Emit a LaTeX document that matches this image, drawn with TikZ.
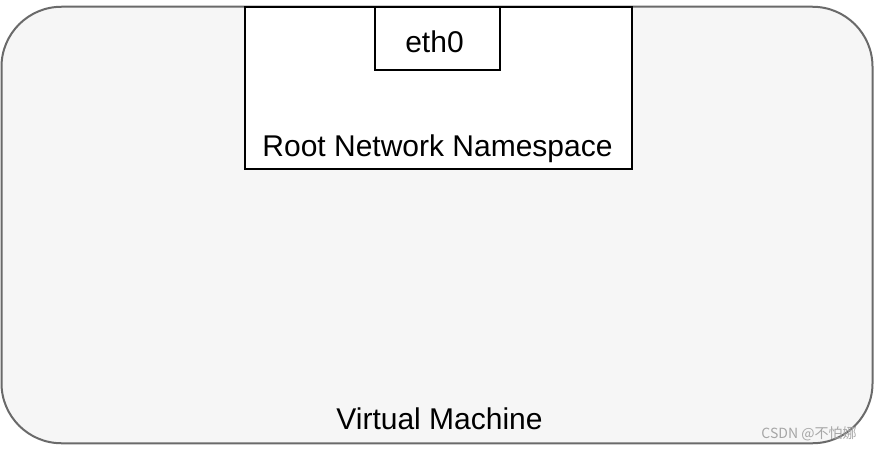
\documentclass[tikz,border=0pt]{standalone}
\usepackage{fontspec}
\setmainfont{Liberation Sans}
\newfontfamily\cjk{Noto Sans CJK SC}
\definecolor{vmfill}{HTML}{F6F6F6}
\definecolor{vmborder}{HTML}{6A6A6A}
\begin{document}
\begin{tikzpicture}[x=1pt,y=1pt,
  vmbox/.style={draw=vmborder, line width=2pt, fill=vmfill, rounded corners=60pt},
  nsbox/.style={draw=black, line width=1.6pt, fill=white},
  label/.style={font=\fontsize{30}{34}\selectfont, inner sep=0pt, anchor=base},
  wm/.style={font=\cjk\fontsize{14}{16}\selectfont, text=gray!70, inner sep=0pt}]
\useasboundingbox (0,0) rectangle (874,451);
\node[vmbox, minimum width=871pt, minimum height=436.5pt, inner sep=0pt] (vm) at (437,226) {};
\node[nsbox, minimum width=387pt, minimum height=162pt, inner sep=0pt] (ns) at (438.5,363) {};
\node[nsbox, minimum width=125pt, minimum height=63pt, inner sep=0pt] (eth) at (437.5,412.5) {};
\node[label] (ethlabel) at (434.5,399) {eth0};
\node[label] (nslabel) at (437.5,295) {Root Network Namespace};
\node[label] (vmlabel) at (439.5,22) {Virtual Machine};
\node[wm] (wmark) at (809,17) {CSDN @不怕娜};
\end{tikzpicture}
\end{document}
